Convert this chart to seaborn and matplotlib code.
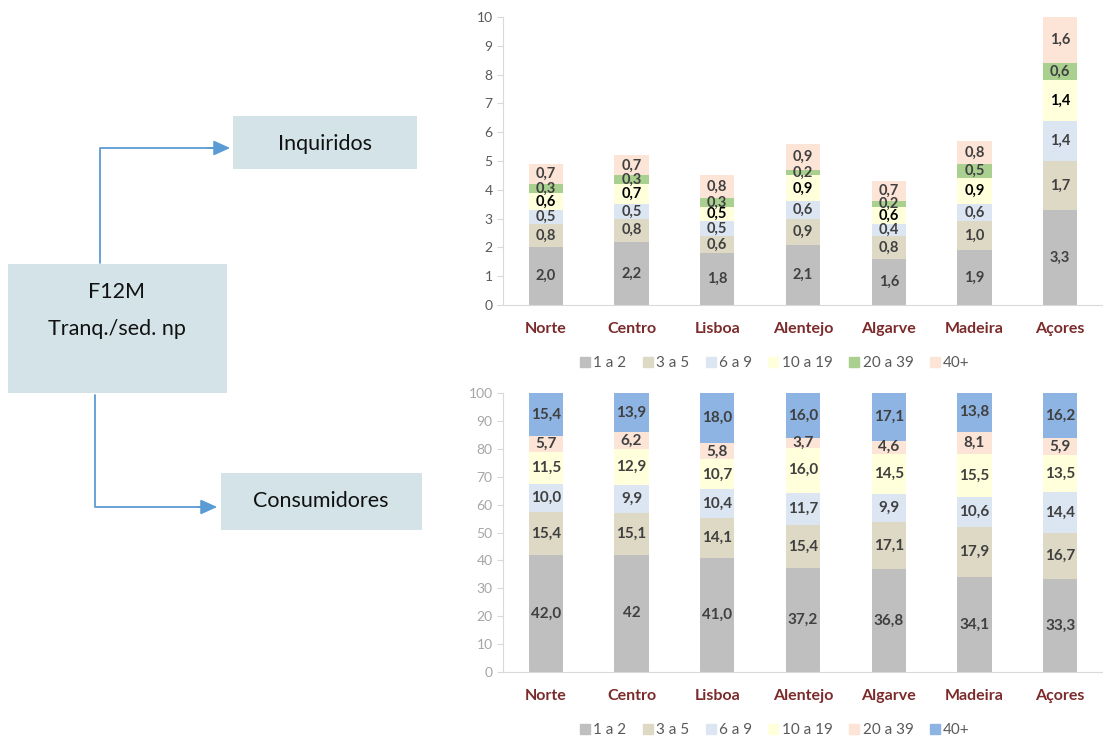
import matplotlib
matplotlib.use("Agg")
import matplotlib.pyplot as plt
from matplotlib.patches import Rectangle
import numpy as np
import seaborn as sns

sns.set_style("white")
plt.rcParams['font.family'] = ['Lato', 'DejaVu Sans']

# Data
regions = ["Norte", "Centro", "Lisboa", "Alentejo", "Algarve", "Madeira", "Açores"]

# Inquiridos (top chart)
inq_labels = ["1 a 2", "3 a 5", "6 a 9", "10 a 19", "20 a 39", "40+"]
inq_1a2 = [2.0, 2.2, 1.8, 2.1, 1.6, 1.9, 3.3]
inq_3a5 = [0.8, 0.8, 0.6, 0.9, 0.8, 1.0, 1.7]
inq_6a9 = [0.5, 0.5, 0.5, 0.6, 0.4, 0.6, 1.4]
inq_10a19 = [0.6, 0.7, 0.5, 0.9, 0.6, 0.9, 1.4]
inq_20a39 = [0.3, 0.3, 0.3, 0.2, 0.2, 0.5, 0.6]
inq_40 = [0.7, 0.7, 0.8, 0.9, 0.7, 0.8, 1.6]

# Consumidores (bottom chart)
cons_labels = ["1 a 2", "3 a 5", "6 a 9", "10 a 19", "20 a 39", "40+"]
cons_1a2 = [42.0, 42, 41.0, 37.2, 36.8, 34.1, 33.3]
cons_3a5 = [15.4, 15.1, 14.1, 15.4, 17.1, 17.9, 16.7]
cons_6a9 = [10.0, 9.9, 10.4, 11.7, 9.9, 10.6, 14.4]
cons_10a19 = [11.5, 12.9, 10.7, 16.0, 14.5, 15.5, 13.5]
cons_20a39 = [5.7, 6.2, 5.8, 3.7, 4.6, 8.1, 5.9]
cons_40 = [15.4, 13.9, 18.0, 16.0, 17.1, 13.8, 16.2]

inq_colors = ["#BFBFBF", "#DDD9C4", "#DCE6F2", "#FFFFDC", "#A9D08E", "#FCE4D6"]
cons_colors = ["#BFBFBF", "#DDD9C4", "#DCE6F2", "#FFFFDC", "#FCE4D6", "#8EB4E3"]
inq_text = ["#404040", "#404040", "#404040", "#000000", "#404040", "#404040"]
cons_text = ["#404040"] * 6


def fmt(v):
    if isinstance(v, int):
        return str(v)
    return f"{v:.1f}".replace(".", ",")


def stacked(ax, series, colors, text_colors, ymax, step, tick_color, fs):
    data = np.array(series, dtype=float)
    cum = np.cumsum(data, axis=0)
    # draw from the tallest cumulative down so each segment shows
    for i in range(len(series) - 1, -1, -1):
        sns.barplot(x=regions, y=cum[i], color=colors[i], width=0.4,
                    saturation=1, linewidth=0, ax=ax)
    for i, s in enumerate(series):
        for j, v in enumerate(s):
            ax.text(j, cum[i][j] - data[i][j] / 2, fmt(v), ha="center",
                    va="center", fontsize=fs, fontweight="bold",
                    color=text_colors[i])
    ax.set_ylim(0, ymax)
    ax.set_xlim(-0.5, 6.5)
    ax.set_yticks(np.arange(0, ymax + step / 2, step))
    ax.tick_params(axis="y", labelsize=10, labelcolor=tick_color, length=4,
                   left=True, width=0.8, color="#D9D9D9")
    ax.tick_params(axis="x", length=0, pad=12)
    for lab in ax.get_xticklabels():
        lab.set_fontweight("bold")
        lab.set_color("#7B2B2B")
        lab.set_fontsize(11.5)
    sns.despine(ax=ax, top=True, right=True)
    ax.spines["left"].set_color("#D9D9D9")
    ax.spines["bottom"].set_color("#D9D9D9")
    ax.set_xlabel("")
    ax.set_ylabel("")


fig = plt.figure(figsize=(11.03, 7.38), dpi=100)
W, H = 1103, 738

ax1 = fig.add_axes([503 / W, 1 - 305 / H, 600 / W, 288 / H])
stacked(ax1, [inq_1a2, inq_3a5, inq_6a9, inq_10a19, inq_20a39, inq_40],
        inq_colors, inq_text, 10, 1, "#595959", 10.5)

ax2 = fig.add_axes([503 / W, 1 - 672 / H, 600 / W, 279 / H])
stacked(ax2, [cons_1a2, cons_3a5, cons_6a9, cons_10a19, cons_20a39, cons_40],
        cons_colors, cons_text, 100, 10, "#A6A6A6", 11)


def add_legend(labels, colors, x, y):
    handles = [plt.Line2D([], [], marker="s", linestyle="", markersize=7,
                          markerfacecolor=c, markeredgecolor=c) for c in colors]
    fig.legend(handles, labels, loc="center", bbox_to_anchor=(x / W, 1 - y / H),
               ncol=6, frameon=False, fontsize=11, handlelength=0.6,
               handletextpad=0.25, columnspacing=1.1, labelcolor="#595959")


add_legend(inq_labels, inq_colors, 775, 363)
add_legend(cons_labels, cons_colors, 775, 730)

# Left diagram
axd = fig.add_axes([0, 0, 1, 1], zorder=-1)
axd.set_xlim(0, W)
axd.set_ylim(H, 0)
axd.axis("off")
box_color = "#D3E3E8"
axd.add_patch(Rectangle((233, 116), 184, 53, facecolor=box_color, edgecolor="none"))
axd.add_patch(Rectangle((221, 473), 201, 57, facecolor=box_color, edgecolor="none"))
axd.add_patch(Rectangle((8, 264), 219, 129, facecolor=box_color, edgecolor="none"))
axd.text(325, 144, "Inquiridos", ha="center", va="center", fontsize=15.5,
         color="#111111")
axd.text(321, 501, "Consumidores", ha="center", va="center", fontsize=15.5,
         color="#111111")
axd.text(117, 292, "F12M", ha="center", va="center", fontsize=15.5,
         color="#111111")
axd.text(117, 329, "Tranq./sed. np", ha="center", va="center", fontsize=15.5,
         color="#111111")

arrow_color = "#5B9BD5"
axd.plot([100, 100, 215], [263, 148, 148], color=arrow_color, lw=1.3)
axd.annotate("", xy=(233, 148), xytext=(205, 148),
             arrowprops=dict(arrowstyle="-|>,head_length=1.0,head_width=0.45",
                             color=arrow_color, lw=1.3))
axd.plot([95, 95, 205], [395, 507, 507], color=arrow_color, lw=1.3)
axd.annotate("", xy=(220, 507), xytext=(195, 507),
             arrowprops=dict(arrowstyle="-|>,head_length=1.0,head_width=0.45",
                             color=arrow_color, lw=1.3))

fig.savefig("out.png", dpi=100)
